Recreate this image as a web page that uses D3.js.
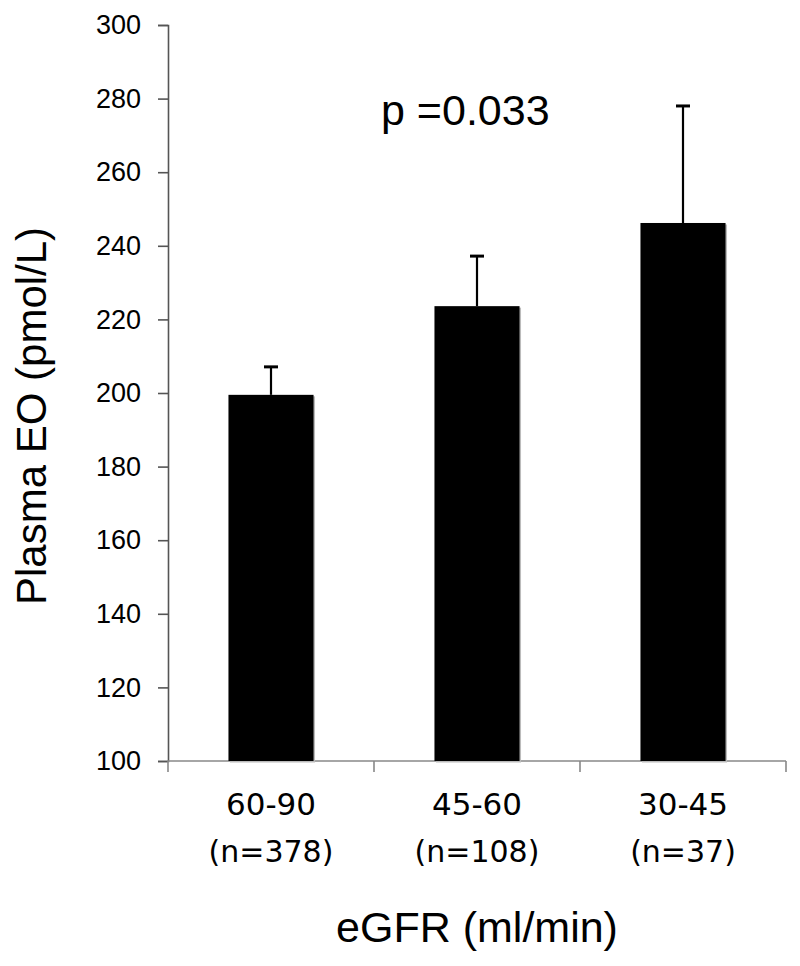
<!DOCTYPE html>
<html>
<head>
<meta charset="utf-8">
<script src="https://cdn.jsdelivr.net/npm/d3@7"></script>
<style>
  html,body{margin:0;padding:0;background:#fff;}
  svg{display:block;}
</style>
</head>
<body>
<svg id="chart" width="800" height="966"></svg>
<script>
/* data */
var categories=['60-90','45-60','30-45'];
var counts=['(n=378)','(n=108)','(n=37)'];
var means=[199.5,223.6,246.2];
var errUp=[7.6,13.6,31.8];
var yTicks=[100,120,140,160,180,200,220,240,260,280,300];
var pLabel='p =0.033';

var svg=d3.select('#chart');
var X0=168, X1=786, Y0=761, Y1=25;

var x=d3.scaleBand().domain(categories).range([X0,X1]).paddingInner(0.587).paddingOuter(0.2935);
var y=d3.scaleLinear().domain([100,300]).range([Y0,Y1]);

/* ── y axis ── */
var yAx=svg.append('g').attr('transform','translate('+X0+',0)')
  .call(d3.axisLeft(y).tickValues(yTicks).tickSize(10).tickPadding(17).tickSizeOuter(10));
yAx.select('.domain').attr('stroke','#555').attr('stroke-width',1.6);
yAx.selectAll('.tick line').attr('stroke','#555').attr('stroke-width',1.6);
yAx.selectAll('.tick text').attr('font-family','Liberation Sans, Arial, sans-serif')
  .attr('font-size','27px').attr('fill','#000');

/* ── x axis: line + ticks at band boundaries ── */
var xg=svg.append('g');
xg.append('line').attr('x1',X0).attr('x2',X1).attr('y1',Y0).attr('y2',Y0)
  .attr('stroke','#888').attr('stroke-width',1.6);
var bounds=categories.map(function(c){return x(c)-x.step()*x.paddingInner()/2;});
bounds.push(X1);
xg.selectAll('line.xt').data(bounds).enter().append('line').attr('class','xt')
  .attr('x1',function(d){return d;}).attr('x2',function(d){return d;})
  .attr('y1',Y0).attr('y2',Y0+11).attr('stroke','#888').attr('stroke-width',1.6);

/* ── bars (with the faint Excel shadow) ── */
svg.selectAll('rect.shadow').data(means).enter().append('rect').attr('class','shadow')
  .attr('x',function(d,i){return x(categories[i])+1.5;})
  .attr('width',x.bandwidth())
  .attr('y',function(d){return y(d)+1.5;})
  .attr('height',function(d){return y(100)-y(d);})
  .attr('fill','#bbb');
svg.selectAll('rect.bar').data(means).enter().append('rect').attr('class','bar')
  .attr('x',function(d,i){return x(categories[i]);})
  .attr('width',x.bandwidth())
  .attr('y',function(d){return y(d);})
  .attr('height',function(d){return y(100)-y(d);})
  .attr('fill','#000');

/* ── error bars (upper only) ── */
var eg=svg.append('g');
means.forEach(function(m,i){
  var cx=x(categories[i])+x.bandwidth()/2;
  eg.append('line').attr('x1',cx).attr('x2',cx).attr('y1',y(m)).attr('y2',y(m+errUp[i]))
    .attr('stroke','#000').attr('stroke-width',2.2);
  eg.append('line').attr('x1',cx-7).attr('x2',cx+7).attr('y1',y(m+errUp[i])).attr('y2',y(m+errUp[i]))
    .attr('stroke','#000').attr('stroke-width',3);
});

/* ── category labels ── */
categories.forEach(function(c,i){
  var cx=x(c)+x.bandwidth()/2;
  svg.append('text').attr('x',cx).attr('y',815).attr('text-anchor','middle')
    .attr('font-family','DejaVu Sans, Verdana, sans-serif').attr('font-size','31px')
    .text(c);
  svg.append('text').attr('x',cx).attr('y',862).attr('text-anchor','middle')
    .attr('font-family','DejaVu Sans, Verdana, sans-serif').attr('font-size','30px')
    .text(counts[i]);
});

/* ── titles ── */
svg.append('text').attr('x',(X0+X1)/2).attr('y',942).attr('text-anchor','middle')
  .attr('font-family','Liberation Sans, Arial, sans-serif').attr('font-size','43px')
  .text('eGFR (ml/min)');
svg.append('text').attr('transform','translate(46,605) rotate(-90)')
  .attr('font-family','Liberation Sans, Arial, sans-serif').attr('font-size','42px')
  .text('Plasma EO (pmol/L)');
svg.append('text').attr('x',381).attr('y',125)
  .attr('font-family','Liberation Sans, Arial, sans-serif').attr('font-size','43px')
  .text(pLabel);
</script>
</body>
</html>
